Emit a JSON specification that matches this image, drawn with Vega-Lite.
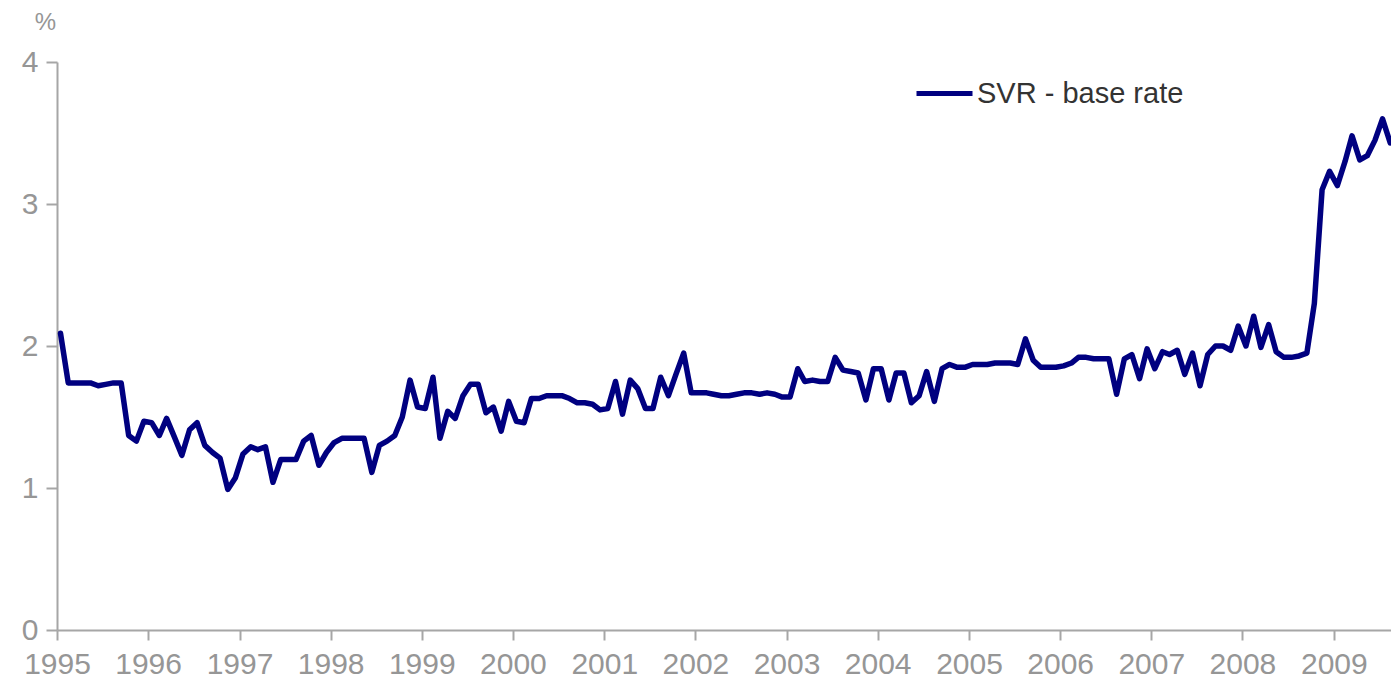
{
  "$schema": "https://vega.github.io/schema/vega-lite/v6.json",
  "width": 1334,
  "height": 568,
  "autosize": {"type": "none"},
  "padding": {"left": 57, "top": 62, "right": 0, "bottom": 59},
  "background": "white",
  "config": {
    "view": {"stroke": null},
    "font": "Liberation Sans"
  },
  "data": {
    "values": [
      {"date": "1995-01-15", "value": 2.09, "series": "SVR - base rate"},
      {"date": "1995-02-15", "value": 1.74, "series": "SVR - base rate"},
      {"date": "1995-03-15", "value": 1.74, "series": "SVR - base rate"},
      {"date": "1995-04-15", "value": 1.74, "series": "SVR - base rate"},
      {"date": "1995-05-15", "value": 1.74, "series": "SVR - base rate"},
      {"date": "1995-06-15", "value": 1.72, "series": "SVR - base rate"},
      {"date": "1995-07-15", "value": 1.73, "series": "SVR - base rate"},
      {"date": "1995-08-15", "value": 1.74, "series": "SVR - base rate"},
      {"date": "1995-09-15", "value": 1.74, "series": "SVR - base rate"},
      {"date": "1995-10-15", "value": 1.37, "series": "SVR - base rate"},
      {"date": "1995-11-15", "value": 1.33, "series": "SVR - base rate"},
      {"date": "1995-12-15", "value": 1.47, "series": "SVR - base rate"},
      {"date": "1996-01-15", "value": 1.46, "series": "SVR - base rate"},
      {"date": "1996-02-15", "value": 1.37, "series": "SVR - base rate"},
      {"date": "1996-03-15", "value": 1.49, "series": "SVR - base rate"},
      {"date": "1996-04-15", "value": 1.36, "series": "SVR - base rate"},
      {"date": "1996-05-15", "value": 1.23, "series": "SVR - base rate"},
      {"date": "1996-06-15", "value": 1.41, "series": "SVR - base rate"},
      {"date": "1996-07-15", "value": 1.46, "series": "SVR - base rate"},
      {"date": "1996-08-15", "value": 1.30, "series": "SVR - base rate"},
      {"date": "1996-09-15", "value": 1.25, "series": "SVR - base rate"},
      {"date": "1996-10-15", "value": 1.21, "series": "SVR - base rate"},
      {"date": "1996-11-15", "value": 0.99, "series": "SVR - base rate"},
      {"date": "1996-12-15", "value": 1.07, "series": "SVR - base rate"},
      {"date": "1997-01-15", "value": 1.24, "series": "SVR - base rate"},
      {"date": "1997-02-15", "value": 1.29, "series": "SVR - base rate"},
      {"date": "1997-03-15", "value": 1.27, "series": "SVR - base rate"},
      {"date": "1997-04-15", "value": 1.29, "series": "SVR - base rate"},
      {"date": "1997-05-15", "value": 1.04, "series": "SVR - base rate"},
      {"date": "1997-06-15", "value": 1.20, "series": "SVR - base rate"},
      {"date": "1997-07-15", "value": 1.20, "series": "SVR - base rate"},
      {"date": "1997-08-15", "value": 1.20, "series": "SVR - base rate"},
      {"date": "1997-09-15", "value": 1.33, "series": "SVR - base rate"},
      {"date": "1997-10-15", "value": 1.37, "series": "SVR - base rate"},
      {"date": "1997-11-15", "value": 1.16, "series": "SVR - base rate"},
      {"date": "1997-12-15", "value": 1.25, "series": "SVR - base rate"},
      {"date": "1998-01-15", "value": 1.32, "series": "SVR - base rate"},
      {"date": "1998-02-15", "value": 1.35, "series": "SVR - base rate"},
      {"date": "1998-03-15", "value": 1.35, "series": "SVR - base rate"},
      {"date": "1998-04-15", "value": 1.35, "series": "SVR - base rate"},
      {"date": "1998-05-15", "value": 1.35, "series": "SVR - base rate"},
      {"date": "1998-06-15", "value": 1.11, "series": "SVR - base rate"},
      {"date": "1998-07-15", "value": 1.30, "series": "SVR - base rate"},
      {"date": "1998-08-15", "value": 1.33, "series": "SVR - base rate"},
      {"date": "1998-09-15", "value": 1.37, "series": "SVR - base rate"},
      {"date": "1998-10-15", "value": 1.50, "series": "SVR - base rate"},
      {"date": "1998-11-15", "value": 1.76, "series": "SVR - base rate"},
      {"date": "1998-12-15", "value": 1.57, "series": "SVR - base rate"},
      {"date": "1999-01-15", "value": 1.56, "series": "SVR - base rate"},
      {"date": "1999-02-15", "value": 1.78, "series": "SVR - base rate"},
      {"date": "1999-03-15", "value": 1.35, "series": "SVR - base rate"},
      {"date": "1999-04-15", "value": 1.54, "series": "SVR - base rate"},
      {"date": "1999-05-15", "value": 1.49, "series": "SVR - base rate"},
      {"date": "1999-06-15", "value": 1.65, "series": "SVR - base rate"},
      {"date": "1999-07-15", "value": 1.73, "series": "SVR - base rate"},
      {"date": "1999-08-15", "value": 1.73, "series": "SVR - base rate"},
      {"date": "1999-09-15", "value": 1.53, "series": "SVR - base rate"},
      {"date": "1999-10-15", "value": 1.57, "series": "SVR - base rate"},
      {"date": "1999-11-15", "value": 1.40, "series": "SVR - base rate"},
      {"date": "1999-12-15", "value": 1.61, "series": "SVR - base rate"},
      {"date": "2000-01-15", "value": 1.47, "series": "SVR - base rate"},
      {"date": "2000-02-15", "value": 1.46, "series": "SVR - base rate"},
      {"date": "2000-03-15", "value": 1.63, "series": "SVR - base rate"},
      {"date": "2000-04-15", "value": 1.63, "series": "SVR - base rate"},
      {"date": "2000-05-15", "value": 1.65, "series": "SVR - base rate"},
      {"date": "2000-06-15", "value": 1.65, "series": "SVR - base rate"},
      {"date": "2000-07-15", "value": 1.65, "series": "SVR - base rate"},
      {"date": "2000-08-15", "value": 1.63, "series": "SVR - base rate"},
      {"date": "2000-09-15", "value": 1.60, "series": "SVR - base rate"},
      {"date": "2000-10-15", "value": 1.60, "series": "SVR - base rate"},
      {"date": "2000-11-15", "value": 1.59, "series": "SVR - base rate"},
      {"date": "2000-12-15", "value": 1.55, "series": "SVR - base rate"},
      {"date": "2001-01-15", "value": 1.56, "series": "SVR - base rate"},
      {"date": "2001-02-15", "value": 1.75, "series": "SVR - base rate"},
      {"date": "2001-03-15", "value": 1.52, "series": "SVR - base rate"},
      {"date": "2001-04-15", "value": 1.76, "series": "SVR - base rate"},
      {"date": "2001-05-15", "value": 1.70, "series": "SVR - base rate"},
      {"date": "2001-06-15", "value": 1.56, "series": "SVR - base rate"},
      {"date": "2001-07-15", "value": 1.56, "series": "SVR - base rate"},
      {"date": "2001-08-15", "value": 1.78, "series": "SVR - base rate"},
      {"date": "2001-09-15", "value": 1.65, "series": "SVR - base rate"},
      {"date": "2001-10-15", "value": 1.80, "series": "SVR - base rate"},
      {"date": "2001-11-15", "value": 1.95, "series": "SVR - base rate"},
      {"date": "2001-12-15", "value": 1.67, "series": "SVR - base rate"},
      {"date": "2002-01-15", "value": 1.67, "series": "SVR - base rate"},
      {"date": "2002-02-15", "value": 1.67, "series": "SVR - base rate"},
      {"date": "2002-03-15", "value": 1.66, "series": "SVR - base rate"},
      {"date": "2002-04-15", "value": 1.65, "series": "SVR - base rate"},
      {"date": "2002-05-15", "value": 1.65, "series": "SVR - base rate"},
      {"date": "2002-06-15", "value": 1.66, "series": "SVR - base rate"},
      {"date": "2002-07-15", "value": 1.67, "series": "SVR - base rate"},
      {"date": "2002-08-15", "value": 1.67, "series": "SVR - base rate"},
      {"date": "2002-09-15", "value": 1.66, "series": "SVR - base rate"},
      {"date": "2002-10-15", "value": 1.67, "series": "SVR - base rate"},
      {"date": "2002-11-15", "value": 1.66, "series": "SVR - base rate"},
      {"date": "2002-12-15", "value": 1.64, "series": "SVR - base rate"},
      {"date": "2003-01-15", "value": 1.64, "series": "SVR - base rate"},
      {"date": "2003-02-15", "value": 1.84, "series": "SVR - base rate"},
      {"date": "2003-03-15", "value": 1.75, "series": "SVR - base rate"},
      {"date": "2003-04-15", "value": 1.76, "series": "SVR - base rate"},
      {"date": "2003-05-15", "value": 1.75, "series": "SVR - base rate"},
      {"date": "2003-06-15", "value": 1.75, "series": "SVR - base rate"},
      {"date": "2003-07-15", "value": 1.92, "series": "SVR - base rate"},
      {"date": "2003-08-15", "value": 1.83, "series": "SVR - base rate"},
      {"date": "2003-09-15", "value": 1.82, "series": "SVR - base rate"},
      {"date": "2003-10-15", "value": 1.81, "series": "SVR - base rate"},
      {"date": "2003-11-15", "value": 1.62, "series": "SVR - base rate"},
      {"date": "2003-12-15", "value": 1.84, "series": "SVR - base rate"},
      {"date": "2004-01-15", "value": 1.84, "series": "SVR - base rate"},
      {"date": "2004-02-15", "value": 1.62, "series": "SVR - base rate"},
      {"date": "2004-03-15", "value": 1.81, "series": "SVR - base rate"},
      {"date": "2004-04-15", "value": 1.81, "series": "SVR - base rate"},
      {"date": "2004-05-15", "value": 1.60, "series": "SVR - base rate"},
      {"date": "2004-06-15", "value": 1.65, "series": "SVR - base rate"},
      {"date": "2004-07-15", "value": 1.82, "series": "SVR - base rate"},
      {"date": "2004-08-15", "value": 1.61, "series": "SVR - base rate"},
      {"date": "2004-09-15", "value": 1.84, "series": "SVR - base rate"},
      {"date": "2004-10-15", "value": 1.87, "series": "SVR - base rate"},
      {"date": "2004-11-15", "value": 1.85, "series": "SVR - base rate"},
      {"date": "2004-12-15", "value": 1.85, "series": "SVR - base rate"},
      {"date": "2005-01-15", "value": 1.87, "series": "SVR - base rate"},
      {"date": "2005-02-15", "value": 1.87, "series": "SVR - base rate"},
      {"date": "2005-03-15", "value": 1.87, "series": "SVR - base rate"},
      {"date": "2005-04-15", "value": 1.88, "series": "SVR - base rate"},
      {"date": "2005-05-15", "value": 1.88, "series": "SVR - base rate"},
      {"date": "2005-06-15", "value": 1.88, "series": "SVR - base rate"},
      {"date": "2005-07-15", "value": 1.87, "series": "SVR - base rate"},
      {"date": "2005-08-15", "value": 2.05, "series": "SVR - base rate"},
      {"date": "2005-09-15", "value": 1.90, "series": "SVR - base rate"},
      {"date": "2005-10-15", "value": 1.85, "series": "SVR - base rate"},
      {"date": "2005-11-15", "value": 1.85, "series": "SVR - base rate"},
      {"date": "2005-12-15", "value": 1.85, "series": "SVR - base rate"},
      {"date": "2006-01-15", "value": 1.86, "series": "SVR - base rate"},
      {"date": "2006-02-15", "value": 1.88, "series": "SVR - base rate"},
      {"date": "2006-03-15", "value": 1.92, "series": "SVR - base rate"},
      {"date": "2006-04-15", "value": 1.92, "series": "SVR - base rate"},
      {"date": "2006-05-15", "value": 1.91, "series": "SVR - base rate"},
      {"date": "2006-06-15", "value": 1.91, "series": "SVR - base rate"},
      {"date": "2006-07-15", "value": 1.91, "series": "SVR - base rate"},
      {"date": "2006-08-15", "value": 1.66, "series": "SVR - base rate"},
      {"date": "2006-09-15", "value": 1.91, "series": "SVR - base rate"},
      {"date": "2006-10-15", "value": 1.94, "series": "SVR - base rate"},
      {"date": "2006-11-15", "value": 1.77, "series": "SVR - base rate"},
      {"date": "2006-12-15", "value": 1.98, "series": "SVR - base rate"},
      {"date": "2007-01-15", "value": 1.84, "series": "SVR - base rate"},
      {"date": "2007-02-15", "value": 1.96, "series": "SVR - base rate"},
      {"date": "2007-03-15", "value": 1.94, "series": "SVR - base rate"},
      {"date": "2007-04-15", "value": 1.97, "series": "SVR - base rate"},
      {"date": "2007-05-15", "value": 1.80, "series": "SVR - base rate"},
      {"date": "2007-06-15", "value": 1.95, "series": "SVR - base rate"},
      {"date": "2007-07-15", "value": 1.72, "series": "SVR - base rate"},
      {"date": "2007-08-15", "value": 1.94, "series": "SVR - base rate"},
      {"date": "2007-09-15", "value": 2.00, "series": "SVR - base rate"},
      {"date": "2007-10-15", "value": 2.00, "series": "SVR - base rate"},
      {"date": "2007-11-15", "value": 1.97, "series": "SVR - base rate"},
      {"date": "2007-12-15", "value": 2.14, "series": "SVR - base rate"},
      {"date": "2008-01-15", "value": 2.00, "series": "SVR - base rate"},
      {"date": "2008-02-15", "value": 2.21, "series": "SVR - base rate"},
      {"date": "2008-03-15", "value": 1.99, "series": "SVR - base rate"},
      {"date": "2008-04-15", "value": 2.15, "series": "SVR - base rate"},
      {"date": "2008-05-15", "value": 1.96, "series": "SVR - base rate"},
      {"date": "2008-06-15", "value": 1.92, "series": "SVR - base rate"},
      {"date": "2008-07-15", "value": 1.92, "series": "SVR - base rate"},
      {"date": "2008-08-15", "value": 1.93, "series": "SVR - base rate"},
      {"date": "2008-09-15", "value": 1.95, "series": "SVR - base rate"},
      {"date": "2008-10-15", "value": 2.30, "series": "SVR - base rate"},
      {"date": "2008-11-15", "value": 3.10, "series": "SVR - base rate"},
      {"date": "2008-12-15", "value": 3.23, "series": "SVR - base rate"},
      {"date": "2009-01-15", "value": 3.13, "series": "SVR - base rate"},
      {"date": "2009-02-15", "value": 3.30, "series": "SVR - base rate"},
      {"date": "2009-03-15", "value": 3.48, "series": "SVR - base rate"},
      {"date": "2009-04-15", "value": 3.31, "series": "SVR - base rate"},
      {"date": "2009-05-15", "value": 3.34, "series": "SVR - base rate"},
      {"date": "2009-06-15", "value": 3.45, "series": "SVR - base rate"},
      {"date": "2009-07-15", "value": 3.60, "series": "SVR - base rate"},
      {"date": "2009-08-15", "value": 3.43, "series": "SVR - base rate"}
    ]
  },
  "mark": {"type": "line", "strokeWidth": 5.5, "strokeJoin": "round", "strokeCap": "round", "clip": false},
  "encoding": {
    "x": {
      "field": "date",
      "type": "temporal",
      "scale": {"domain": ["1995-01-01", "2009-08-18"], "nice": false},
      "axis": {
        "title": null,
        "format": "%Y",
        "tickCount": {"interval": "year", "step": 1},
        "grid": false,
        "domainColor": "#a6a6a6",
        "domainWidth": 2,
        "tickColor": "#a6a6a6",
        "tickWidth": 2,
        "tickSize": 10,
        "labelPadding": 9,
        "labelFont": "Liberation Sans",
        "labelFontSize": 30,
        "labelColor": "#969696",
        "labelFlush": false,
        "labelOverlap": false
      }
    },
    "y": {
      "field": "value",
      "type": "quantitative",
      "scale": {"domain": [0, 4], "nice": false, "zero": true},
      "axis": {
        "title": "%",
        "titleAngle": 0,
        "titleX": -12,
        "titleY": -40,
        "titleAlign": "center",
        "titleBaseline": "middle",
        "titleFont": "Liberation Sans",
        "titleFontSize": 24,
        "titleFontWeight": "normal",
        "titleColor": "#969696",
        "values": [0, 1, 2, 3, 4],
        "grid": false,
        "domainColor": "#a6a6a6",
        "domainWidth": 2,
        "tickColor": "#a6a6a6",
        "tickWidth": 2,
        "tickSize": 11,
        "labelPadding": 8,
        "labelFont": "Liberation Sans",
        "labelFontSize": 30,
        "labelColor": "#969696"
      }
    },
    "color": {
      "field": "series",
      "type": "nominal",
      "scale": {"range": ["#000080"]},
      "legend": {
        "title": null,
        "orient": "none",
        "legendX": 857,
        "legendY": 1,
        "padding": 0,
        "symbolType": "stroke",
        "symbolSize": 3136,
        "symbolStrokeWidth": 5,
        "labelFont": "Liberation Sans",
        "labelFontSize": 29,
        "labelColor": "#333333",
        "labelOffset": 2,
        "labelLimit": 400
      }
    }
  }
}
